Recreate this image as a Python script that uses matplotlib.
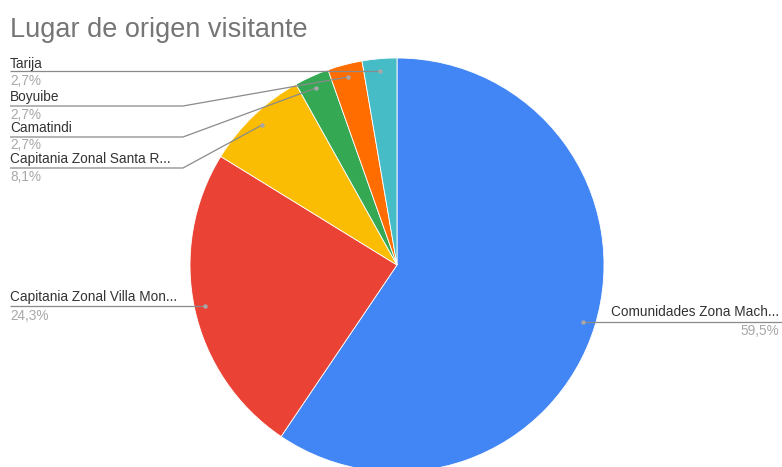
import matplotlib
matplotlib.use("Agg")
import matplotlib.pyplot as plt

W, H = 782, 467

categories = ["Comunidades Zona Mach...", "Capitania Zonal Villa Mon...",
              "Capitania Zonal Santa R...", "Camatindi", "Boyuibe", "Tarija"]
values = [22, 9, 3, 1, 1, 1]
pct_labels = ["59,5%", "24,3%", "8,1%", "2,7%", "2,7%", "2,7%"]
colors = ["#4285F4", "#EA4335", "#FBBC04", "#34A853", "#FF6D01", "#46BDC6"]

plt.rcParams['font.family'] = ['Liberation Sans', 'DejaVu Sans']

fig = plt.figure(figsize=(W / 100, H / 100), dpi=100)
ax = fig.add_axes([0, 0, 1, 1])

def Y(p):
    return H - p

cx, cy, r = 397, 265, 207
ax.pie(values, colors=colors, startangle=90, counterclock=False,
       center=(cx, Y(cy)), radius=r, frame=True,
       wedgeprops=dict(linewidth=0.6, edgecolor='white'))
ax.set_xlim(0, W)
ax.set_ylim(0, H)
ax.set_aspect('equal')
ax.axis('off')

fig.text(10 / W, 1 - 30 / H, "Lugar de origen visitante", fontsize=19.5,
         color="#757575", va='center', ha='left')

line_c = "#8a8a8a"
name_c = "#333333"
pct_c = "#a8a8a8"
fs = 9.8

# left-side labels: (index, text_y, underline_y, pct_y, underline_end_x, dot_x, dot_y)
left = [
    (5, 64, 71, 81, 330, 380, 71),
    (4, 97, 106, 115, 183, 348, 77),
    (3, 128, 137, 145, 183, 316, 88),
    (2, 159, 168, 177, 183, 262, 125),
    (1, 297, 306, 316, 205, 205, 306),
]
for i, ty, ly, py, ex, dx, dy in left:
    ax.text(10, Y(ty), categories[i], fontsize=fs, color=name_c, va='center', ha='left')
    ax.text(10, Y(py), pct_labels[i], fontsize=fs, color=pct_c, va='center', ha='left')
    ax.plot([10, ex, dx], [Y(ly), Y(ly), Y(dy)], color=line_c, lw=0.9,
            solid_capstyle='butt')
    ax.plot([dx], [Y(dy)], 'o', ms=3.2, color="#a8a8a8", mec='none')

# right-side label
ax.text(779, Y(312), categories[0], fontsize=fs, color=name_c, va='center', ha='right')
ax.text(779, Y(331), pct_labels[0], fontsize=fs, color=pct_c, va='center', ha='right')
ax.plot([583, W], [Y(322), Y(322)], color=line_c, lw=0.9)
ax.plot([583], [Y(322)], 'o', ms=3.2, color="#a8a8a8", mec='none')

fig.savefig("out.png", dpi=100, facecolor='white')
